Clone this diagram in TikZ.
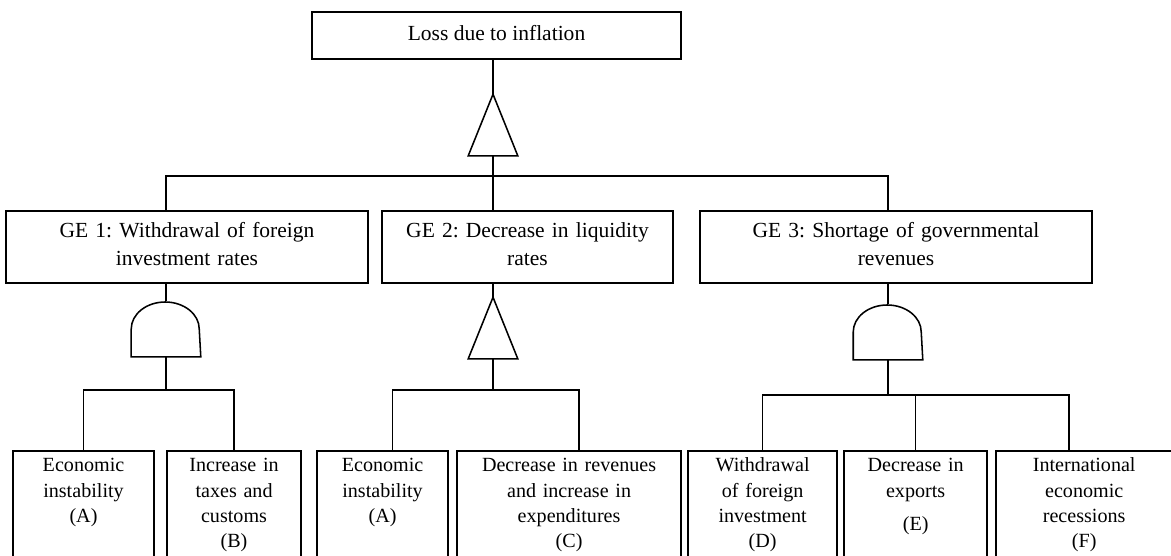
\documentclass[tikz,border=0pt]{standalone}
\usepackage{fontspec}
\setmainfont{Liberation Serif}
\frenchspacing
\usetikzlibrary{positioning, calc}

\begin{document}
\begin{tikzpicture}[
    x=0.025cm, y=0.025cm,
    line width=1.1pt,
    topevent/.style={draw, minimum width=9.225cm, minimum height=1.175cm,
                     text height=10pt, text depth=3.2pt, font=\fontsize{15.3}{20}\selectfont},
    midevent/.style={draw, text width=#1, align=center, inner xsep=0pt, minimum height=1.8cm,
                     text height=10pt, text depth=23pt, font=\fontsize{15.3}{20}\selectfont},
    leaf/.style={draw, text width=#1, align=center, inner xsep=0pt, inner ysep=4pt,
                 anchor=north, text height=11pt, text depth=3cm, font=\fontsize{14.3}{18}\selectfont},
    orgate/.style={inner sep=0pt, minimum width=1.2cm, minimum height=1.5cm},
    andgate/.style={inner sep=0pt, minimum width=1.7cm, minimum height=1.35cm},
]
\useasboundingbox (0,0) rectangle (1171,-555);
\clip (0,0) rectangle (1171,-555);

% top event and its gate
\node[topevent] (loss) at (496.5,-35.5) {Loss due to inflation};
\node[orgate] (or0) at (493,-125) {};

% intermediate events
\node[midevent=9.05cm] (ge1) at (187,-247) {GE 1: Withdrawal of foreign\\investment rates};
\node[midevent=7.275cm] (ge2) at (527.5,-247) {GE 2: Decrease in liquidity\\rates};
\node[midevent=9.8cm] (ge3) at (896,-247) {GE 3: Shortage of governmental\\revenues};

\node[andgate] (and1) at (166,-329) {};
\node[orgate] (or2) at (493,-328) {};
\node[andgate] (and3) at (888,-332) {};

% basic events
\node[leaf=3.525cm] (a1) at (83.5,-450) {Economic\\instability\\(A)};
\node[leaf=3.35cm, right=0.286cm of a1.north east, anchor=north west] (b) {Increase in\\taxes and\\customs\\(B)};
\node[leaf=3.275cm, right=0.361cm of b.north east, anchor=north west] (a2) {Economic\\instability\\(A)};
\node[leaf=5.6cm, right=0.186cm of a2.north east, anchor=north west] (c) {Decrease in revenues\\and increase in\\expenditures\\(C)};
\node[leaf=3.725cm, right=0.136cm of c.north east, anchor=north west] (d) {Withdrawal\\of foreign\\investment\\(D)};
\node[leaf=3.575cm, right=0.136cm of d.north east, anchor=north west] (e) {Decrease in\\exports\\[6pt](E)};
\node[leaf=4.4cm, right=0.186cm of e.north east, anchor=north west] (f) {International\\economic\\recessions\\(F)};

% gate shapes
\draw (or0.south west) -- (or0.north) -- (or0.south east) -- cycle;
\draw (or2.south west) -- (or2.north) -- (or2.south east) -- cycle;
\draw (and1.south west) -- (and1.west) arc[start angle=180, end angle=0, x radius=0.85cm, y radius=0.675cm] -- (and1.south east) -- cycle;
\draw (and3.south west) -- (and3.west) arc[start angle=180, end angle=0, x radius=0.85cm, y radius=0.675cm] -- (and3.south east) -- cycle;

% first level
\draw (loss.south -| or0.north) -- (or0.north);
\draw (or0.south) -- ++(0,-20) coordinate (j0) -- (or0.south |- ge2.north);
\draw (ge1.north -| and1.north) |- (j0) -| (ge3.north -| and3.north);

% GE 1
\draw (ge1.south -| and1.north) -- (and1.north);
\draw (and1.south) -- ++(0,-33) coordinate (j1);
\draw (a1.north) |- (j1) -| (b.north);

% GE 2
\draw (ge2.south -| or2.north) -- (or2.north);
\draw (or2.south) -- ++(0,-31) coordinate (j2);
\draw ([xshift=0.25cm]a2.north) |- (j2) -| ([xshift=0.25cm]c.north);

% GE 3
\draw (ge3.south -| and3.north) -- (and3.north);
\draw (and3.south) -- ++(0,-35) coordinate (j3);
\draw (d.north) |- (j3) -| ([xshift=-0.375cm]f.north);
\draw (e.north) -- (e.north |- j3);
\end{tikzpicture}
\end{document}
